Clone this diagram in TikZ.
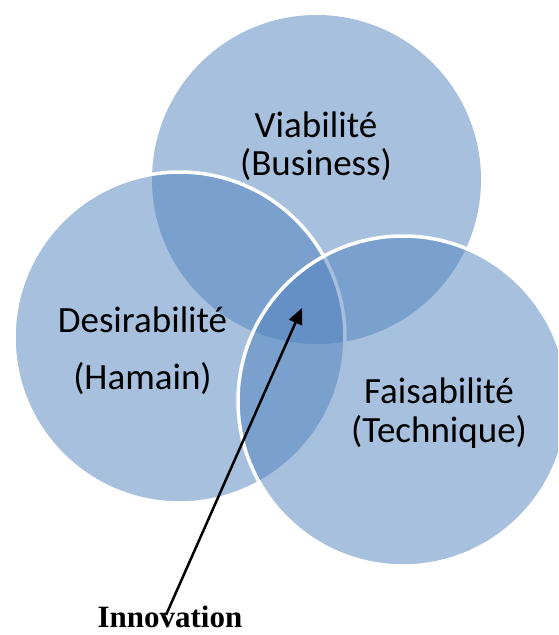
\documentclass[tikz,border=0pt]{standalone}
\usepackage{fontspec}
\setmainfont{Carlito}
\newfontfamily\timesbf{Liberation Serif}
\usetikzlibrary{arrows.meta}
\definecolor{vblue}{RGB}{79,129,189}
\tikzset{
  venn/.style={fill=vblue, fill opacity=0.5},
  vennline/.style={venn, draw=white, draw opacity=1, line width=3.5pt},
  lbl/.style={anchor=base, inner sep=0pt, font=\fontsize{37}{44}\selectfont, text=black},
}
\begin{document}
\begin{tikzpicture}[x=1pt,y=-1pt]
\useasboundingbox (0,0) rectangle (558,635);
\begin{scope}
\clip (0,0) rectangle (558,635);
\fill[venn] (316.5,179.5) circle (164.5);
\path[vennline] (179.5,337.5) circle (165.5);
\path[vennline] (403,401) circle (165);
\end{scope}
\node[lbl] (v1) at (316,137) {Viabilité};
\node[lbl] (v2) at (316,175) {(Business)};
\node[lbl] (d1) at (142.5,332) {Desirabilité};
\node[lbl] (d2) at (142.5,389) {(Hamain)};
\node[lbl] (f1) at (439,403) {Faisabilité};
\node[lbl] (f2) at (439,442) {(Technique)};
\node[anchor=base, inner sep=0pt, font=\timesbf\bfseries\fontsize{31}{37}\selectfont] (inn) at (170,627) {Innovation};
\coordinate (tail) at (166,615);
\coordinate (tip) at (302,308);
\draw[line width=2.5pt, -{Triangle[length=16pt,width=14pt]}] (tail) -- (tip);
\end{tikzpicture}
\end{document}
